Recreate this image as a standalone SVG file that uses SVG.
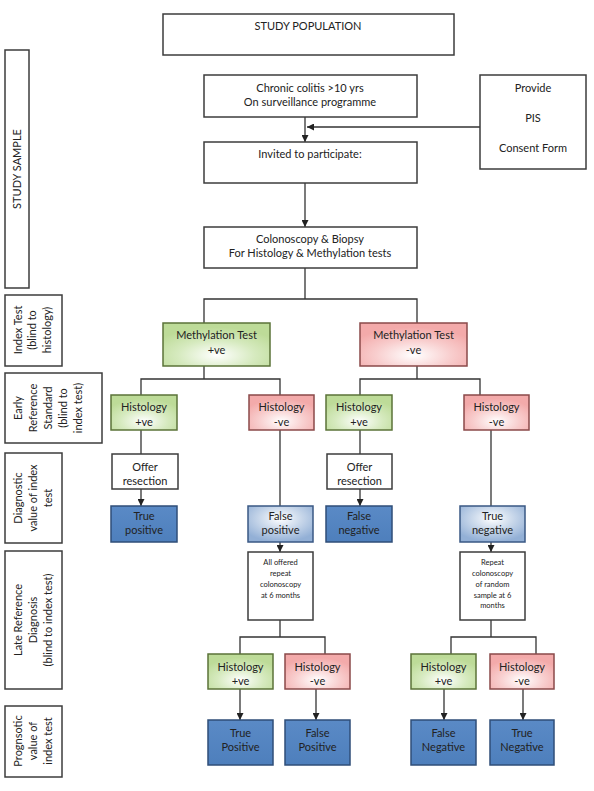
<svg xmlns="http://www.w3.org/2000/svg" width="594" height="791" viewBox="0 0 594 791">
<style>
text{font-family:Lato,"Open Sans","Liberation Sans",sans-serif;font-size:11px;fill:#222;text-anchor:middle}
.box{fill:#fff;stroke:#3c3c3c;stroke-width:1.5}
.grn{fill:url(#gG);stroke:#5b7339;stroke-width:1.5}
.red{fill:url(#gR);stroke:#8a4a4a;stroke-width:1.5}
.dblu{fill:url(#gD);stroke:#2f4e78;stroke-width:1.5}
.lblu{fill:url(#gL);stroke:#3a5884;stroke-width:1.5}
.sm{font-size:7.5px}
.con line,.con path{stroke:#333;stroke-width:1.3;fill:none}
.arr{marker-end:url(#ah)}
</style>
<defs>
<radialGradient id="gG" cx="50%" cy="75%" r="65%"><stop offset="0" stop-color="#ffffff"/><stop offset="0.55" stop-color="#d6eabf"/><stop offset="1" stop-color="#bddb98"/></radialGradient>
<radialGradient id="gR" cx="50%" cy="75%" r="65%"><stop offset="0" stop-color="#ffffff"/><stop offset="0.55" stop-color="#f8cdcd"/><stop offset="1" stop-color="#f3aaaa"/></radialGradient>
<radialGradient id="gL" cx="50%" cy="35%" r="65%"><stop offset="0" stop-color="#ffffff"/><stop offset="0.5" stop-color="#c8d7ea"/><stop offset="1" stop-color="#93b0d6"/></radialGradient>
<linearGradient id="gD" x1="0" y1="0" x2="0" y2="1"><stop offset="0" stop-color="#5a8ac6"/><stop offset="1" stop-color="#4e7fbc"/></linearGradient>
<marker id="ah" viewBox="0 0 8 8" refX="8" refY="4" markerWidth="7" markerHeight="7" markerUnits="userSpaceOnUse" orient="auto"><path d="M0,0 L8,4 L0,8 Z" fill="#222"/></marker>
</defs>

<g id="left-labels">
<g id="lbl-study-sample"><rect class="box" x="5" y="50" width="24" height="238"/><text transform="translate(0,169) rotate(-90)"><tspan x="0" y="21">STUDY SAMPLE</tspan></text></g>
<g id="lbl-index"><rect class="box" x="5" y="295" width="57" height="71"/><text transform="translate(0,330) rotate(-90)"><tspan x="0" y="22">Index Test</tspan><tspan x="0" y="36">(blind to</tspan><tspan x="0" y="51">histology)</tspan></text></g>
<g id="lbl-early"><rect class="box" x="5" y="373" width="97" height="70"/><text transform="translate(0,408) rotate(-90)"><tspan x="0" y="22">Early</tspan><tspan x="0" y="37">Reference</tspan><tspan x="0" y="52">Standard</tspan><tspan x="0" y="67">(blind to</tspan><tspan x="0" y="82">index test)</tspan></text></g>
<g id="lbl-diag"><rect class="box" x="5" y="453" width="57" height="90"/><text transform="translate(0,498) rotate(-90)"><tspan x="0" y="22">Diagnostic</tspan><tspan x="0" y="37">value of index</tspan><tspan x="0" y="52">test</tspan></text></g>
<g id="lbl-late"><rect class="box" x="5" y="551" width="57" height="138"/><text transform="translate(0,620) rotate(-90)"><tspan x="0" y="22">Late Reference</tspan><tspan x="0" y="37">Diagnosis</tspan><tspan x="0" y="52">(blind to index test)</tspan></text></g>
<g id="lbl-prog"><rect class="box" x="5" y="706" width="57" height="71"/><text transform="translate(0,741) rotate(-90)"><tspan x="0" y="22">Prognsotic</tspan><tspan x="0" y="37">value of</tspan><tspan x="0" y="52">index test</tspan></text></g>
</g>

<g id="connectors" class="con">
<line class="arr" x1="305" y1="117" x2="305" y2="142"/>
<line class="arr" x1="480" y1="127" x2="307" y2="127"/>
<line class="arr" x1="305" y1="183" x2="305" y2="227"/>
<path d="M305,268 V299 M204,323 V299 H417 V323"/>
<path d="M204,366 V379 M141,395 V379 H280 V395"/>
<path d="M417,366 V379 M360,395 V379 H480 V395"/>
<line x1="141" y1="430" x2="141" y2="454"/>
<line class="arr" x1="141" y1="489" x2="141" y2="506"/>
<line x1="280" y1="430" x2="280" y2="506"/>
<line x1="360" y1="430" x2="360" y2="454"/>
<line class="arr" x1="360" y1="489" x2="360" y2="506"/>
<line x1="491" y1="430" x2="491" y2="506"/>
<line class="arr" x1="280" y1="542" x2="280" y2="552"/>
<line class="arr" x1="491" y1="542" x2="491" y2="552"/>
<path d="M280,620 V637 M240,654 V637 H325 V654"/>
<path d="M491,620 V637 M451,654 V637 H536 V654"/>
<line class="arr" x1="240" y1="689" x2="240" y2="720"/>
<line class="arr" x1="316" y1="689" x2="316" y2="720"/>
<line class="arr" x1="444" y1="689" x2="444" y2="720"/>
<line class="arr" x1="523" y1="689" x2="523" y2="720"/>
</g>

<g id="study-population"><rect class="box" x="163" y="14" width="291" height="41"/><text x="308" y="30">STUDY POPULATION</text></g>
<g id="chronic"><rect class="box" x="204" y="75" width="213" height="42"/><text x="310" y="92">Chronic colitis &gt;10 yrs</text><text x="310" y="106">On surveillance programme</text></g>
<g id="provide"><rect class="box" x="480" y="75" width="106" height="94"/><text x="533" y="92">Provide</text><text x="533" y="122">PIS</text><text x="533" y="152">Consent Form</text></g>
<g id="invited"><rect class="box" x="204" y="142" width="213" height="41"/><text x="310" y="158">Invited to participate:</text></g>
<g id="colonoscopy"><rect class="box" x="204" y="227" width="213" height="41"/><text x="310" y="243">Colonoscopy &amp; Biopsy</text><text x="310" y="257">For Histology &amp; Methylation tests</text></g>

<g id="meth-pos"><rect class="grn" x="163" y="323" width="107" height="43"/><text x="216.5" y="339">Methylation Test</text><text x="216.5" y="354">+ve</text></g>
<g id="meth-neg"><rect class="red" x="360" y="323" width="107" height="43"/><text x="413.5" y="339">Methylation Test</text><text x="413.5" y="354">-ve</text></g>

<g id="hist-1"><rect class="grn" x="111" y="395" width="66" height="35"/><text x="144" y="411">Histology</text><text x="144" y="426">+ve</text></g>
<g id="hist-2"><rect class="red" x="249" y="395" width="65" height="35"/><text x="281.5" y="411">Histology</text><text x="281.5" y="426">-ve</text></g>
<g id="hist-3"><rect class="grn" x="326" y="395" width="66" height="35"/><text x="359" y="411">Histology</text><text x="359" y="426">+ve</text></g>
<g id="hist-4"><rect class="red" x="464" y="395" width="65" height="35"/><text x="496.5" y="411">Histology</text><text x="496.5" y="426">-ve</text></g>

<g id="offer-1"><rect class="box" x="112" y="454" width="66" height="35"/><text x="145" y="471">Offer</text><text x="145" y="485">resection</text></g>
<g id="offer-2"><rect class="box" x="327" y="454" width="65" height="35"/><text x="359.5" y="471">Offer</text><text x="359.5" y="485">resection</text></g>

<g id="true-pos"><rect class="dblu" x="111" y="506" width="66" height="36"/><text x="144" y="520">True</text><text x="144" y="534">positive</text></g>
<g id="false-pos"><rect class="lblu" x="248" y="506" width="65" height="36"/><text x="280.5" y="520">False</text><text x="280.5" y="534">positive</text></g>
<g id="false-neg"><rect class="dblu" x="326" y="506" width="66" height="36"/><text x="359" y="520">False</text><text x="359" y="534">negative</text></g>
<g id="true-neg"><rect class="lblu" x="460" y="506" width="65" height="36"/><text x="492.5" y="520">True</text><text x="492.5" y="534">negative</text></g>

<g id="all-offered"><rect class="box" x="248" y="552" width="65" height="68"/><text class="sm" x="280.5" y="564.5">All offered</text><text class="sm" x="280.5" y="575.5">repeat</text><text class="sm" x="280.5" y="586.5">colonoscopy</text><text class="sm" x="280.5" y="597.5">at 6 months</text></g>
<g id="repeat"><rect class="box" x="460" y="552" width="65" height="68"/><text class="sm" x="492.5" y="564.5">Repeat</text><text class="sm" x="492.5" y="575.5">colonoscopy</text><text class="sm" x="492.5" y="586.5">of random</text><text class="sm" x="492.5" y="597.5">sample at 6</text><text class="sm" x="492.5" y="608">months</text></g>

<g id="hist-5"><rect class="grn" x="208" y="654" width="65" height="35"/><text x="240.5" y="671">Histology</text><text x="240.5" y="685">+ve</text></g>
<g id="hist-6"><rect class="red" x="285" y="654" width="65" height="35"/><text x="317.5" y="671">Histology</text><text x="317.5" y="685">-ve</text></g>
<g id="hist-7"><rect class="grn" x="411" y="654" width="65" height="35"/><text x="443.5" y="671">Histology</text><text x="443.5" y="685">+ve</text></g>
<g id="hist-8"><rect class="red" x="490" y="654" width="64" height="35"/><text x="522" y="671">Histology</text><text x="522" y="685">-ve</text></g>

<g id="res-tp"><rect class="dblu" x="208" y="720" width="65" height="45"/><text x="240.5" y="737">True</text><text x="240.5" y="751">Positive</text></g>
<g id="res-fp"><rect class="dblu" x="285" y="720" width="65" height="45"/><text x="317.5" y="737">False</text><text x="317.5" y="751">Positive</text></g>
<g id="res-fn"><rect class="dblu" x="411" y="720" width="65" height="45"/><text x="443.5" y="737">False</text><text x="443.5" y="751">Negative</text></g>
<g id="res-tn"><rect class="dblu" x="490" y="720" width="64" height="45"/><text x="522" y="737">True</text><text x="522" y="751">Negative</text></g>
</svg>
